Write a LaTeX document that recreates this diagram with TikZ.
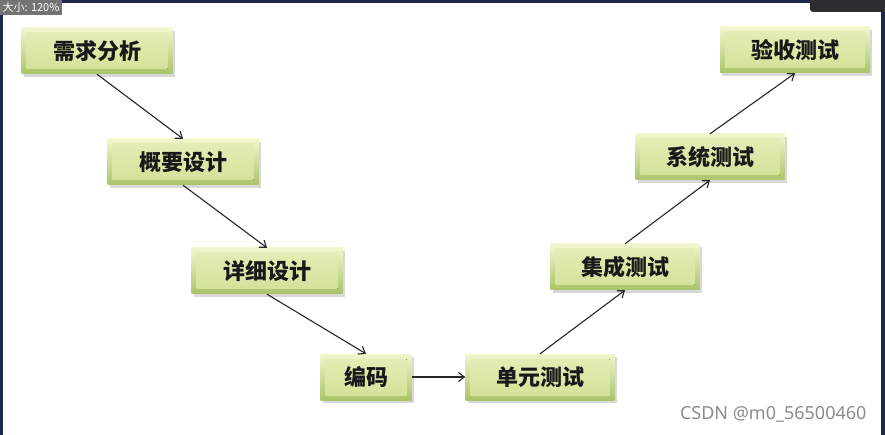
\documentclass[tikz,border=0pt]{standalone}
\usepackage{fontspec}
\newfontfamily\cjk{Noto Sans CJK SC}
\newfontfamily\wmfont{Noto Sans}
\usetikzlibrary{positioning,arrows.meta,calc,shadows}
\definecolor{vmframe}{RGB}{30,40,75}
\definecolor{vmbar}{RGB}{45,45,48}
\definecolor{vmedgehi}{RGB}{242,246,205}
\definecolor{vmedgelo}{RGB}{170,196,105}
\definecolor{vmfacehi}{RGB}{230,238,185}
\definecolor{vmfacelo}{RGB}{208,225,150}
\tikzset{
  vm/.style={font=\cjk\bfseries\fontsize{22}{25}\selectfont, text=black!90},
  vmbox/.style={
    vm, top color=vmedgehi, bottom color=vmedgelo, draw=none,
    minimum height=46pt, inner sep=0pt,
    drop shadow={opacity=0.3, shadow xshift=2pt, shadow yshift=-3pt},
    path picture={
      \fill[top color=vmfacehi, bottom color=vmfacelo]
        ($(path picture bounding box.north west)+(5pt,-5pt)$) rectangle
        ($(path picture bounding box.south east)+(-5pt,5pt)$);
    }
  },
  vmarr/.style={-{Straight Barb[length=6pt,width=9pt]}, line width=1.1pt, draw=black!85},
}

\begin{document}
\begin{tikzpicture}[x=1pt,y=-1pt]
    \useasboundingbox (0,0) rectangle (885,435);
    % screenshot frame
    \fill[vmframe] (0,0) rectangle (885,435);
    \fill[white] (3,3) rectangle (881,435);
    \fill[vmbar, rounded corners=3pt] (810,-5) rectangle (890,12);
    \node[fill=black!55, text=white, font=\cjk\fontsize{11}{12}\selectfont,
      inner sep=2.5pt, anchor=north west] (zoomlbl) at (0,0) {大小: 120\%};

    % left branch
    \node[vmbox, minimum width=151pt] (xqfx) at (97,51) {需求分析};
    \node[vmbox, minimum width=151pt] (gysj) at (183,162) {概要设计};
    \node[vmbox, minimum width=151pt] (xxsj) at (267,271) {详细设计};
    \node[vmbox, minimum width=91pt] (bm) at (366,377) {编码};

    % right branch
    \node[vmbox, minimum width=149pt] (dycs) at (540,377) {单元测试};
    \node[vmbox, minimum width=149pt] (jccs) at (625,267) {集成测试};
    \node[vmbox, minimum width=149pt] (xtcs) at (710,157) {系统测试};
    \node[vmbox, minimum width=150pt] (yscs) at (795,50) {验收测试};

    \draw[vmarr] (xqfx.south) -- (gysj.north);
    \draw[vmarr] (gysj.south) -- (xxsj.north);
    \draw[vmarr] (xxsj.south) -- (bm.north);
    \draw[vmarr] (bm.east) -- (dycs.west);
    \draw[vmarr] (dycs.north) -- (jccs.south);
    \draw[vmarr] (jccs.north) -- (xtcs.south);
    \draw[vmarr] (xtcs.north) -- (yscs.south);

    \node[font=\wmfont\fontsize{18}{20}\selectfont, text=black!45, anchor=east] (wm)
      at (870,414) {CSDN @m0\_56500460};
  \end{tikzpicture}
\end{document}
